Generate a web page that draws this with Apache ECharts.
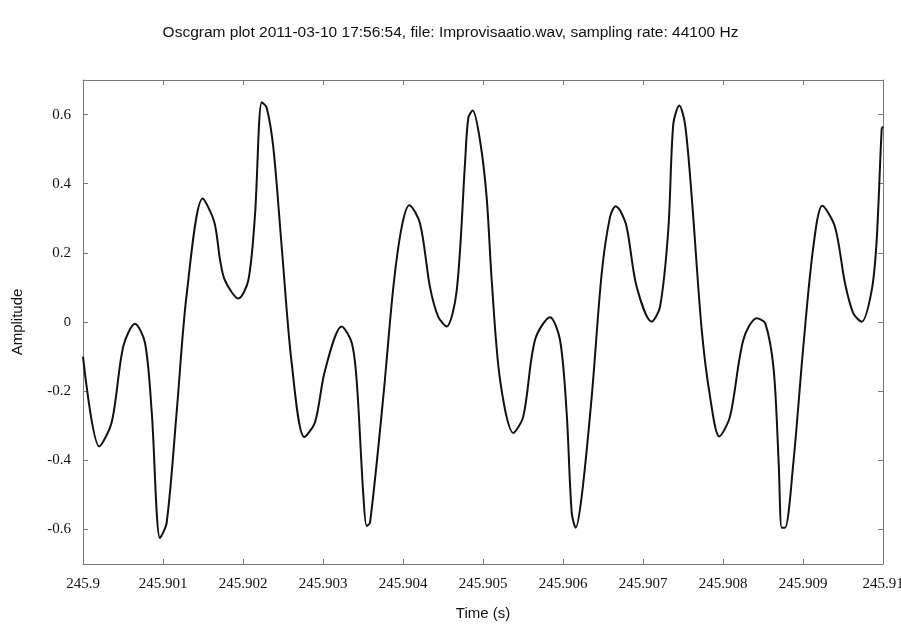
<!DOCTYPE html>
<html lang="en">
<head>
    <meta charset="UTF-8">
    <title>Oscgram plot</title>
    <script src="https://cdn.jsdelivr.net/npm/echarts@6/dist/echarts.min.js"></script>
    <style>
        html, body { margin: 0; padding: 0; background: #fff; }
    </style>
</head>
<body>
    <div id="chart" style="width: 901px; height: 628px;"></div>
</body>
</html>
<script>
    // time offset from 245.9 s, in ms
    var tOffsetMs = [
        0.000, 0.204, 0.359, 0.504, 0.650, 0.775, 0.859, 0.963, 1.046, 1.171,
        1.296, 1.496, 1.640, 1.713, 1.775, 1.942, 2.066, 2.150, 2.234, 2.296,
        2.379, 2.484, 2.609, 2.766, 2.900, 3.025, 3.234, 3.359, 3.421, 3.504,
        3.546, 3.588, 3.754, 3.879, 3.984, 4.079, 4.213, 4.338, 4.441, 4.546,
        4.671, 4.775, 4.816, 4.871, 4.963, 5.046, 5.109, 5.213, 5.379, 5.504,
        5.650, 5.838, 5.963, 6.046, 6.109, 6.159, 6.234, 6.359, 6.484, 6.588,
        6.659, 6.712, 6.796, 6.921, 7.109, 7.213, 7.316, 7.379, 7.454, 7.525,
        7.609, 7.734, 7.838, 7.954, 8.088, 8.254, 8.421, 8.529, 8.634, 8.696,
        8.734, 8.775, 8.879, 9.004, 9.129, 9.241, 9.400, 9.525, 9.629, 9.734,
        9.859, 9.921, 9.984, 10.000
    ];
    var amplitude = [
        -0.10, -0.36, -0.29, -0.07, -0.005, -0.06, -0.26, -0.625, -0.58, -0.26,
        0.08, 0.357, 0.29, 0.18, 0.12, 0.068, 0.12, 0.31, 0.636, 0.62,
        0.505, 0.217, -0.12, -0.333, -0.29, -0.14, -0.013, -0.06, -0.17, -0.50,
        -0.59, -0.58, -0.216, 0.10, 0.275, 0.338, 0.285, 0.10, 0.015, -0.013,
        0.09, 0.458, 0.59, 0.612, 0.525, 0.36, 0.12, -0.167, -0.321, -0.273,
        -0.052, 0.014, -0.052, -0.264, -0.552, -0.595, -0.504, -0.216, 0.141, 0.304,
        0.335, 0.323, 0.275, 0.102, 0.001, 0.044, 0.266, 0.573, 0.626, 0.573,
        0.362, -0.023, -0.216, -0.331, -0.273, -0.052, 0.011, -0.004, -0.139, -0.408,
        -0.595, -0.595, -0.408, -0.071, 0.217, 0.336, 0.275, 0.112, 0.025, 0.001,
        0.092, 0.237, 0.559, 0.565
    ];
    var xTicks = [245.9, 245.901, 245.902, 245.903, 245.904, 245.905, 245.906, 245.907, 245.908, 245.909, 245.91];
    var yTicks = [-0.6, -0.4, -0.2, 0, 0.2, 0.4, 0.6];

    var points = tOffsetMs.map(function (ms, i) {
        return [245.9 + ms / 1000, amplitude[i]];
    });

    var frame = { show: true, onZero: false, lineStyle: { color: '#777', width: 1 } };
    var ticks = { show: true, inside: true, length: 5, lineStyle: { color: '#777' } };
    var serif = 'Liberation Serif, Times New Roman, serif';
    var sans = 'Liberation Sans, Arial, sans-serif';

    var chart = echarts.init(document.getElementById('chart'));
    chart.setOption({
        animation: false,
        title: {
            text: 'Oscgram plot 2011-03-10 17:56:54, file: Improvisaatio.wav, sampling rate: 44100 Hz',
            left: 'center',
            top: 20,
            textStyle: { fontFamily: sans, fontSize: 15.5, fontWeight: 'normal', color: '#111' }
        },
        grid: { left: 83, right: 18, top: 80, bottom: 64, outerBoundsMode: 'none' },
        xAxis: [{
            type: 'value',
            min: 245.9,
            max: 245.91,
            name: 'Time (s)',
            nameLocation: 'middle',
            nameGap: 42,
            nameTextStyle: { fontFamily: sans, fontSize: 15, color: '#111' },
            axisLine: frame,
            axisTick: Object.assign({}, ticks, { customValues: xTicks }),
            axisLabel: { customValues: xTicks, margin: 13, fontFamily: serif, fontSize: 15, color: '#111' },
            splitLine: { show: false }
        }, {
            type: 'value',
            position: 'top',
            min: 245.9,
            max: 245.91,
            axisLine: frame,
            axisTick: Object.assign({}, ticks, { customValues: xTicks }),
            axisLabel: { show: false },
            splitLine: { show: false }
        }],
        yAxis: [{
            type: 'value',
            min: -0.7,
            max: 0.7,
            name: 'Amplitude',
            nameLocation: 'middle',
            nameGap: 58,
            nameTextStyle: { fontFamily: sans, fontSize: 15, color: '#111' },
            axisLine: frame,
            axisTick: Object.assign({}, ticks, { customValues: yTicks }),
            axisLabel: {
                customValues: yTicks,
                margin: 12,
                fontFamily: serif,
                fontSize: 15,
                color: '#111',
                formatter: function (v) {
                    return v === 0 ? '{s|0}' : String(v);
                },
                rich: { s: { fontFamily: sans, fontSize: 13, color: '#111' } }
            },
            splitLine: { show: false }
        }, {
            type: 'value',
            position: 'right',
            min: -0.7,
            max: 0.7,
            axisLine: frame,
            axisTick: Object.assign({}, ticks, { customValues: yTicks }),
            axisLabel: { show: false },
            splitLine: { show: false }
        }],
        series: [{
            type: 'line',
            data: points,
            showSymbol: false,
            smooth: 0.3,
            lineStyle: { color: '#111', width: 2 }
        }]
    });
    window.onresize = chart.resize;
</script>
